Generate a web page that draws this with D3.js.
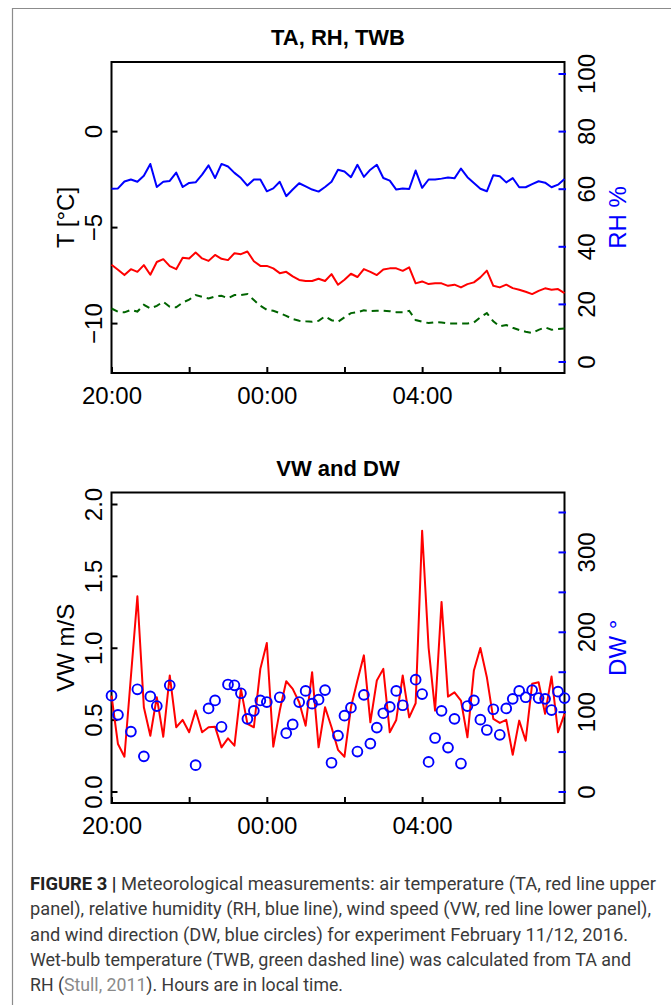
<!DOCTYPE html>
<html lang="en">
<head>
<meta charset="UTF-8">
<title>Figure 3 - TA, RH, TWB / VW and DW</title>
<script src="https://d3js.org/d3.v7.min.js"></script>
<style>
  html, body { margin: 0; padding: 0; background: #fff; }
  svg { display: block; font-family: "Liberation Sans", Arial, Helvetica, sans-serif; }
  .tick line { stroke-width: 2; }
</style>
</head>
<body>
<svg id="fig"></svg>
<script>
// ---- data (10-minute samples starting 20:00, Feb 11 2016) ----
const startTime = new Date(2016, 1, 11, 20, 0);
const stepMinutes = 10;

// air temperature TA [°C]
const ta = [-6.96, -7.22, -7.50, -7.19, -7.33, -6.98, -7.48, -6.82, -6.67, -7.03,
            -7.19, -6.60, -6.64, -6.32, -6.63, -6.76, -6.45, -6.65, -6.72, -6.36,
            -6.41, -6.27, -6.78, -7.02, -7.02, -7.15, -7.40, -7.33, -7.57, -7.75,
            -7.81, -7.81, -7.69, -7.81, -7.45, -8.00, -7.74, -7.43, -7.60, -7.19,
            -7.33, -7.50, -7.21, -7.15, -7.15, -7.28, -7.10, -7.93, -7.83, -7.97,
            -7.93, -7.93, -8.06, -8.00, -8.14, -7.97, -7.88, -7.62, -7.27, -8.06,
            -8.14, -8.00, -8.18, -8.26, -8.37, -8.49, -8.32, -8.19, -8.26, -8.23, -8.44];

// relative humidity RH [%]
const rh = [60.0, 60.1, 62.5, 63.2, 62.4, 64.5, 68.6, 60.6, 62.4, 62.7,
            65.6, 60.6, 62.0, 62.2, 64.9, 68.1, 63.7, 68.6, 67.7, 65.5,
            63.7, 61.1, 63.2, 63.2, 59.1, 60.1, 62.4, 57.4, 59.7, 61.9,
            60.8, 59.7, 59.0, 60.6, 62.4, 66.6, 66.0, 64.0, 68.3, 64.1,
            66.6, 68.3, 63.7, 62.8, 59.7, 60.1, 59.9, 66.3, 60.3, 63.2,
            63.2, 63.5, 63.9, 63.6, 67.0, 64.0, 62.0, 60.0, 59.1, 64.7,
            64.3, 62.2, 63.7, 60.5, 60.5, 61.6, 62.6, 62.1, 60.5, 61.4, 63.4];

// wet-bulb temperature TWB [°C]
const twb = [-9.24, -9.41, -9.44, -9.31, -9.40, -9.05, -9.24, -9.10, -8.89, -9.15,
             -9.18, -8.93, -8.78, -8.54, -8.63, -8.72, -8.61, -8.58, -8.70, -8.54,
             -8.54, -8.49, -8.80, -9.10, -9.31, -9.36, -9.48, -9.62, -9.79, -9.88,
             -9.91, -9.93, -9.88, -9.65, -9.85, -9.93, -9.70, -9.48, -9.44, -9.33,
             -9.38, -9.36, -9.36, -9.38, -9.43, -9.43, -9.36, -9.84, -9.93, -10.00,
             -9.95, -9.97, -10.02, -10.02, -10.02, -10.02, -9.97, -9.70, -9.48, -9.91,
             -10.17, -10.10, -10.24, -10.36, -10.45, -10.52, -10.35, -10.22, -10.35, -10.31, -10.28];

// wind speed VW [m/s]
const vw = [0.667, 0.33, 0.242, 0.80, 1.358, 0.586, 0.388, 0.656, 0.381, 0.807,
            0.447, 0.498, 0.412, 0.563, 0.412, 0.447, 0.451, 0.307, 0.370, 0.319,
            0.714, 0.470, 0.447, 0.853, 1.033, 0.312, 0.563, 0.767, 0.714, 0.621,
            0.458, 0.830, 0.307, 0.586, 0.447, 0.29, 0.242, 0.586, 0.772, 0.947,
            0.481, 0.772, 0.853, 0.412, 0.498, 0.807, 0.516, 0.614, 1.814, 1.0,
            0.563, 1.319, 0.66, 0.69, 0.633, 0.377, 0.842, 0.998, 0.795, 0.505,
            0.477, 0.498, 0.256, 0.493, 0.353, 0.749, 0.760, 0.54, 0.80, 0.412, 0.54];

// wind direction DW [°] (null = no reading)
const dw = [120, 96, null, 75, 128, 44, 119, 107, null, 133,
            null, null, null, 33, null, 104, 114, 81, 134, 133,
            123, 91, 101, 114, 112, null, 118, 73, 84, 112,
            126, 110, 115, 127, 36, 70, 95, 105, 50, 121,
            60, 80, 98, 106, 126, 108, null, 140, 122, 37,
            67, 101, 55, 91, 35, 107, 114, 90, 77, 103,
            71, 104, 116, 126, 118, 127, 117, 116, 102, 125, 117];

const tTicks = [-10, -5, 0];
const rhTicks = [0, 20, 40, 60, 80, 100];
const vwTicks = [0, 0.5, 1.0, 1.5, 2.0];
const dwTicks = [0, 50, 100, 150, 200, 250, 300, 350];
const dwLabels = [0, 100, 200, 300];

const captionLines = [
  [["FIGURE 3 |", "b"], [" Meteorological measurements: air temperature (TA, red line upper", ""]],
  [["panel), relative humidity (RH, blue line), wind speed (VW, red line lower panel),", ""]],
  [["and wind direction (DW, blue circles) for experiment February 11/12, 2016.", ""]],
  [["Wet-bulb temperature (TWB, green dashed line) was calculated from TA and", ""]],
  [["RH (", ""], ["Stull, 2011", "g"], ["). Hours are in local time.", ""]]
];

// ---- layout ----
const W = 672, H = 1005;
const X0 = 111.5, X1 = 564.5;
const RED = "#ff0000", BLUE = "#0000ff", GREEN = "#006400";

const svg = d3.select("#fig").attr("width", W).attr("height", H);
svg.append("rect").attr("width", W).attr("height", H).attr("fill", "#fff");

// figure frame (left, top, right)
svg.append("path")
  .attr("d", "M12.5,1005 V8.5 H671")
  .attr("fill", "none").attr("stroke", "#8c8c8c").attr("stroke-width", 1.2);

const times = ta.map((d, i) => d3.timeMinute.offset(startTime, i * stepMinutes));
const endTime = times[times.length - 1];

const x = d3.scaleTime().domain([startTime, endTime]).range([X0, X1]);
const xTicks = d3.timeHour.every(2).range(startTime, d3.timeMinute.offset(endTime, 1));
const fmtHour = d3.timeFormat("%H:%M");

function panel(top, bottom, title, leftDomain, rightDomain) {
  const g = svg.append("g");
  const yl = d3.scaleLinear().domain(leftDomain).range([bottom, top]);
  const yr = d3.scaleLinear().domain(rightDomain).range([bottom, top]);

  g.append("text")
    .attr("x", (X0 + X1) / 2).attr("y", top - 17)
    .attr("text-anchor", "middle")
    .attr("font-size", 22).attr("font-weight", "bold")
    .text(title);

  // bottom time axis
  g.append("g")
    .attr("transform", `translate(0,${bottom})`)
    .call(d3.axisBottom(x).tickValues(xTicks).tickSize(-6)
      .tickFormat(d => d.getHours() % 4 === 0 ? fmtHour(d) : ""))
    .call(a => a.select(".domain").remove())
    .call(a => a.selectAll("line").attr("stroke", "#000"))
    .call(a => a.selectAll("text").attr("y", 31).attr("dy", 0)
      .attr("font-size", 24).attr("fill", "#000"));

  g.append("rect")
    .attr("x", X0).attr("y", top)
    .attr("width", X1 - X0).attr("height", bottom - top)
    .attr("fill", "none").attr("stroke", "#000").attr("stroke-width", 2);

  return { g, yl, yr };
}

function leftAxis(p, ticks, fmt, label) {
  p.g.append("g")
    .attr("transform", `translate(${X0},0)`)
    .call(d3.axisLeft(p.yl).tickValues(ticks).tickSize(-6).tickFormat(fmt))
    .call(a => a.select(".domain").remove())
    .call(a => a.selectAll("line").attr("stroke", "#000"))
    .call(a => a.selectAll("text")
      .attr("transform", "rotate(-90)")
      .attr("x", 0).attr("y", -9.5).attr("dy", 0)
      .attr("text-anchor", "middle")
      .attr("font-size", 24).attr("fill", "#000"));
  const [r0, r1] = p.yl.range();
  p.g.append("text")
    .attr("transform", `translate(74,${(r0 + r1) / 2}) rotate(-90)`)
    .attr("text-anchor", "middle").attr("font-size", 24)
    .text(label);
}

function rightAxis(p, ticks, labelled, label) {
  p.g.append("g")
    .attr("transform", `translate(${X1},0)`)
    .call(d3.axisRight(p.yr).tickValues(ticks).tickSize(-6)
      .tickFormat(d => labelled.includes(d) ? d : ""))
    .call(a => a.select(".domain").remove())
    .call(a => a.selectAll("line").attr("stroke", BLUE).attr("x1", 1.5))
    .call(a => a.selectAll("text")
      .attr("transform", "rotate(-90)")
      .attr("x", 0).attr("y", 30.5).attr("dy", 0)
      .attr("text-anchor", "middle")
      .attr("font-size", 24).attr("fill", "#000"));
  const [r0, r1] = p.yr.range();
  p.g.append("text")
    .attr("transform", `translate(626,${(r0 + r1) / 2}) rotate(-90)`)
    .attr("text-anchor", "middle").attr("font-size", 24)
    .attr("fill", BLUE)
    .text(label);
}

// ---- upper panel: TA, RH, TWB ----
const p1 = panel(62, 373, "TA, RH, TWB", [-12.6, 3.6], [-4, 104]);
leftAxis(p1, tTicks, d3.format("d"), "T [°C]");
rightAxis(p1, rhTicks, rhTicks, "RH %");

const lineT = d3.line().x((d, i) => x(times[i])).y(d => p1.yl(d));
const lineRH = d3.line().x((d, i) => x(times[i])).y(d => p1.yr(d));

p1.g.append("path").datum(rh).attr("d", lineRH)
  .attr("fill", "none").attr("stroke", BLUE).attr("stroke-width", 2).attr("stroke-linejoin", "round");
p1.g.append("path").datum(ta).attr("d", lineT)
  .attr("fill", "none").attr("stroke", RED).attr("stroke-width", 2).attr("stroke-linejoin", "round");
p1.g.append("path").datum(twb).attr("d", lineT)
  .attr("fill", "none").attr("stroke", GREEN).attr("stroke-width", 2)
  .attr("stroke-dasharray", "7,5");

// ---- lower panel: VW and DW ----
const p2 = panel(492.5, 803, "VW and DW", [-0.08, 2.08], [-14.4, 374.4]);
leftAxis(p2, vwTicks, d3.format(".1f"), "VW m/S");
rightAxis(p2, dwTicks, dwLabels, "DW °");

const lineVW = d3.line().x((d, i) => x(times[i])).y(d => p2.yl(d));
p2.g.append("path").datum(vw).attr("d", lineVW)
  .attr("fill", "none").attr("stroke", RED).attr("stroke-width", 2).attr("stroke-linejoin", "round");

p2.g.append("g")
  .selectAll("circle")
  .data(dw.map((d, i) => ({ t: times[i], v: d })).filter(d => d.v !== null))
  .join("circle")
  .attr("cx", d => x(d.t))
  .attr("cy", d => p2.yr(d.v))
  .attr("r", 4.9)
  .attr("fill", "none").attr("stroke", BLUE).attr("stroke-width", 1.9);

// ---- caption ----
const lineEnds = [656, 651, 628, 631, 343];
const cap = svg.append("g")
  .attr("font-family", "'Liberation Sans Narrow', 'Roboto', 'Liberation Sans', sans-serif")
  .attr("font-size", 17.5).attr("fill", "#3a3a3a");

captionLines.forEach((parts, k) => {
  const t = cap.append("text")
    .attr("x", 30).attr("y", 890 + k * 25.3)
    .attr("textLength", lineEnds[k] - 30)
    .attr("lengthAdjust", "spacingAndGlyphs");
  parts.forEach(([s, style]) => {
    const ts = t.append("tspan").text(s);
    if (style === "b") ts.attr("font-weight", "bold").attr("fill", "#222");
    if (style === "g") ts.attr("fill", "#8a8a8a");
  });
});
</script>
</body>
</html>
